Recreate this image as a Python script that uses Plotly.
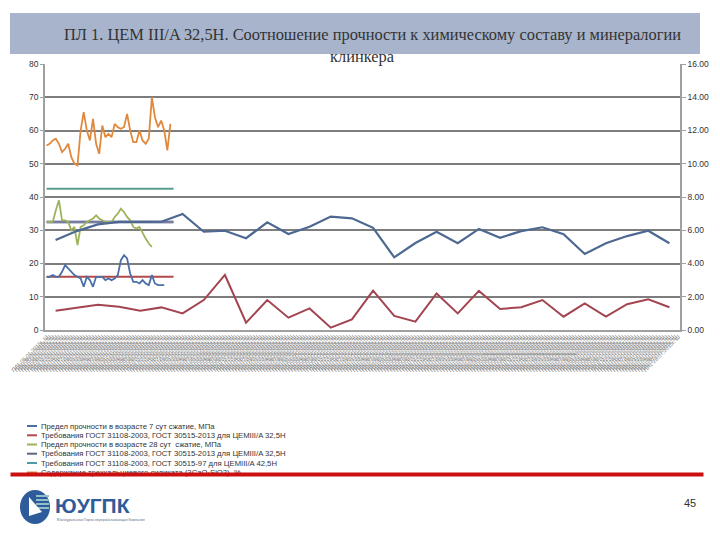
import pandas as pd
import plotly.graph_objects as go

W, H = 720, 540

# ---------------- data ----------------
# primary categories (dense, unreadable sample labels along the bottom)
CATEGORIES = [f"ПЛ1 {d:%d.%m.%Y}г. Ш" for d in pd.date_range("2015-01-05", periods=205)]
# secondary categories used by the long clinker series
LONG_CATS = [f"Проба {i}" for i in range(1, 31)]

STRENGTH_7 = [16, 16, 16.5, 16, 16, 17.5, 19.5, 18.5, 17.5, 16.5, 16, 15.5, 13, 16, 15,
              13, 16, 16, 16, 15, 15.5, 15, 15.5, 16.5, 21, 22.5, 21.5, 17, 14.5, 14.5,
              14, 15, 14, 13.5, 16.5, 14, 13.5, 13.5, 13.5]
STRENGTH_28 = [32.5, 32.5, 32.5, 36, 39, 33, 33, 32.5, 30, 31, 25.5, 31, 31.5, 32.5, 33,
               33.5, 34.5, 33.5, 33, 32.5, 32.5, 32.5, 34, 35, 36.5, 35.5, 34, 33, 31, 30.5,
               31, 29, 27.5, 26, 25]
C3S = [55.5, 56, 57, 57.5, 56, 53.5, 54.5, 56, 52, 50, 49.5, 60, 65.5, 60, 57, 63.5, 56,
       53, 61.5, 58, 59, 58, 62, 61, 60.5, 61, 65, 60, 56.5, 56.5, 60, 57, 56, 57.5, 70,
       64, 61, 63, 60, 54, 62]
REQ_7_325 = 16.0
REQ_28_325 = 32.5
REQ_28_425 = 42.5
REQ_POINTS = 42

LONG_BLUE = [5.41, 5.95, 6.35, 6.5, 6.5, 6.51, 6.98, 5.91, 5.97, 5.52, 6.48, 5.77, 6.21,
             6.82, 6.72, 6.15, 4.37, 5.23, 5.91, 5.22, 6.08, 5.55, 5.95, 6.18, 5.76, 4.57,
             5.22, 5.65, 5.97, 5.22]
LONG_RED = [1.16, 1.35, 1.52, 1.4, 1.16, 1.36, 1.0, 1.8, 3.31, 0.44, 1.8, 0.74, 1.3, 0.14,
            0.64, 2.37, 0.85, 0.5, 2.2, 1.0, 2.35, 1.26, 1.37, 1.8, 0.8, 1.6, 0.8, 1.55,
            1.85, 1.37]

LEFT_TICKS = [0, 10, 20, 30, 40, 50, 60, 70, 80]
RIGHT_TICKS = [0, 2, 4, 6, 8, 10, 12, 14, 16]

TITLE_1 = "ПЛ 1. ЦЕМ III/A 32,5Н. Соотношение прочности к химическому составу и минералогии"
TITLE_2 = "клинкера"

LEGEND = [
    ("Предел прочности в возрасте 7 сут сжатие, МПа", "#4a6fa8"),
    ("Требования ГОСТ 31108-2003, ГОСТ 30515-2013 для ЦЕМIII/A 32,5Н", "#b5484a"),
    ("Предел прочности в возрасте 28 сут  сжатие, МПа", "#9bb35a"),
    ("Требования ГОСТ 31108-2003, ГОСТ 30515-2013 для ЦЕМIII/A 32,5Н", "#5e6480"),
    ("Требования ГОСТ 31108-2003, ГОСТ 30515-97 для ЦЕМIII/A 42,5Н", "#4f9aa8"),
    ("Содержание трехкальциевого силиката (3CaO·SiO2), %", "#d98a45"),
]

# ---------------- helpers ----------------
def X(px):
    return px / W

def Y(py):
    return 1 - py / H

fig = go.Figure()

# short series (primary axes)
fig.add_trace(go.Scatter(x=CATEGORIES[:len(C3S)], y=C3S, mode="lines",
                         line=dict(color="#e0893c", width=1.8), name=LEGEND[5][0]))
fig.add_trace(go.Scatter(x=[CATEGORIES[0], CATEGORIES[REQ_POINTS - 1]], y=[REQ_28_425] * 2,
                         mode="lines", line=dict(color="#5a9e92", width=2), name=LEGEND[4][0]))
fig.add_trace(go.Scatter(x=[CATEGORIES[0], CATEGORIES[REQ_POINTS - 1]], y=[REQ_28_325] * 2,
                         mode="lines", line=dict(color="#8f95b8", width=3), name=LEGEND[3][0]))
fig.add_trace(go.Scatter(x=[CATEGORIES[0], CATEGORIES[REQ_POINTS - 1]], y=[REQ_28_325] * 2,
                         mode="lines", line=dict(color="#5e6480", width=1), showlegend=False))
fig.add_trace(go.Scatter(x=CATEGORIES[:len(STRENGTH_28)], y=STRENGTH_28, mode="lines",
                         line=dict(color="#9bb35a", width=1.8), name=LEGEND[2][0]))
fig.add_trace(go.Scatter(x=[CATEGORIES[0], CATEGORIES[REQ_POINTS - 1]], y=[REQ_7_325] * 2,
                         mode="lines", line=dict(color="#b5484a", width=2), name=LEGEND[1][0]))
fig.add_trace(go.Scatter(x=CATEGORIES[:len(STRENGTH_7)], y=STRENGTH_7, mode="lines",
                         line=dict(color="#4a6fa8", width=1.8), name=LEGEND[0][0]))

# long series (secondary axes)
fig.add_trace(go.Scatter(x=LONG_CATS, y=LONG_BLUE, mode="lines", xaxis="x2", yaxis="y2",
                         line=dict(color="#4d6891", width=2.2)))
fig.add_trace(go.Scatter(x=LONG_CATS, y=LONG_RED, mode="lines", xaxis="x2", yaxis="y2",
                         line=dict(color="#a34550", width=2)))

x_dom = [X(45), X(680)]
y_dom = [Y(330), Y(64)]

fig.update_layout(
    width=W, height=H,
    margin=dict(l=0, r=0, t=0, b=0),
    paper_bgcolor="white", plot_bgcolor="white",
    showlegend=False,
    font=dict(family="Liberation Sans, Arial, sans-serif", color="#333"),
    xaxis=dict(domain=x_dom, type="category", categoryorder="array", categoryarray=CATEGORIES,
               range=[-0.5, len(CATEGORIES) - 0.5], tickmode="linear", tick0=0, dtick=1,
               tickangle=-45, tickfont=dict(size=5.5, color="#777777"), showgrid=False,
               showline=True, linecolor="#a0a0a0", linewidth=1.5, ticks="", automargin=False,
               anchor="y", zeroline=False),
    xaxis2=dict(domain=x_dom, type="category", categoryorder="array", categoryarray=LONG_CATS,
                range=[-0.5, len(LONG_CATS) - 0.5], overlaying="x", visible=False, anchor="y2"),
    yaxis=dict(domain=y_dom, range=[0, 80], tickmode="array", tickvals=LEFT_TICKS,
               tickfont=dict(size=8.5, color="#333"), showgrid=True, gridcolor="#7d7d7d",
               gridwidth=1.5, showline=True, linecolor="#a0a0a0", linewidth=1.5,
               ticks="outside", ticklen=3, tickcolor="#a0a0a0", zeroline=False,
               automargin=False, anchor="x"),
    yaxis2=dict(domain=y_dom, range=[0, 16], tickmode="array", tickvals=RIGHT_TICKS,
                tickformat=".2f", side="right", overlaying="y", anchor="x",
                tickfont=dict(size=8.5, color="#333"), showgrid=False, showline=True,
                linecolor="#a0a0a0", linewidth=1.5, ticks="outside", ticklen=4,
                tickcolor="#a0a0a0", zeroline=False, automargin=False),
)

shapes = []
annotations = []

# title band
shapes.append(dict(type="rect", xref="paper", yref="paper", x0=X(10), x1=X(700),
                   y0=Y(54), y1=Y(13), fillcolor="#a7b4cc", line=dict(width=0), layer="below"))
annotations.append(dict(xref="paper", yref="paper", x=X(372), y=Y(35), text=TITLE_1,
                        showarrow=False, xanchor="center", yanchor="middle",
                        font=dict(family="Liberation Serif, Times New Roman, serif",
                                  size=16.4, color="#333333")))
annotations.append(dict(xref="paper", yref="paper", x=X(362), y=Y(57), text=TITLE_2,
                        showarrow=False, xanchor="center", yanchor="middle",
                        font=dict(family="Liberation Serif, Times New Roman, serif",
                                  size=16.4, color="#333333")))

# custom legend
leg_y = [426, 435.3, 444.5, 453.7, 463, 472.5]
for (txt, col), py in zip(LEGEND, leg_y):
    shapes.append(dict(type="line", xref="paper", yref="paper", x0=X(27), x1=X(37),
                       y0=Y(py), y1=Y(py), line=dict(color=col, width=2)))
    annotations.append(dict(xref="paper", yref="paper", x=X(39), y=Y(py), text=txt,
                            showarrow=False, xanchor="left", yanchor="middle",
                            font=dict(size=7.7, color="#333")))

# red separator bar (drawn above the cut legend item)
annotations.append(dict(xref="paper", yref="paper", x=X(10), y=Y(474.5), text=" ",
                        showarrow=False, xanchor="left", yanchor="middle", width=692,
                        height=3, borderpad=0, bgcolor="#cc1010", font=dict(size=1)))

# logo
shapes.append(dict(type="circle", xref="paper", yref="paper", x0=X(20), x1=X(50),
                   y0=Y(524), y1=Y(490), fillcolor="#2e5b99", line=dict(width=0)))
for py in [496, 500, 504, 508]:
    shapes.append(dict(type="line", xref="paper", yref="paper", x0=X(36), x1=X(49),
                       y0=Y(py), y1=Y(py), line=dict(color="#8fc0c8", width=2)))
shapes.append(dict(type="path", xref="paper", yref="paper",
                   path=f"M {X(29)} {Y(497)} L {X(29)} {Y(516)} L {X(42)} {Y(512)} Z",
                   fillcolor="white", line=dict(width=0)))
annotations.append(dict(xref="paper", yref="paper", x=X(53), y=Y(505), text="<b>ЮУГПК</b>",
                        showarrow=False, xanchor="left", yanchor="middle",
                        font=dict(family="Liberation Sans, Arial, sans-serif", size=21,
                                  color="#2e5b99")))
annotations.append(dict(xref="paper", yref="paper", x=X(55), y=Y(520),
                        text="Южноуральская Горно-перерабатывающая Компания",
                        showarrow=False, xanchor="left", yanchor="middle",
                        font=dict(size=3.5, color="#5a6f90")))

# page number
annotations.append(dict(xref="paper", yref="paper", x=X(690), y=Y(503), text="45",
                        showarrow=False, xanchor="center", yanchor="middle",
                        font=dict(size=11, color="#333")))

fig.update_layout(shapes=shapes, annotations=annotations)
fig.write_html("out.html")
